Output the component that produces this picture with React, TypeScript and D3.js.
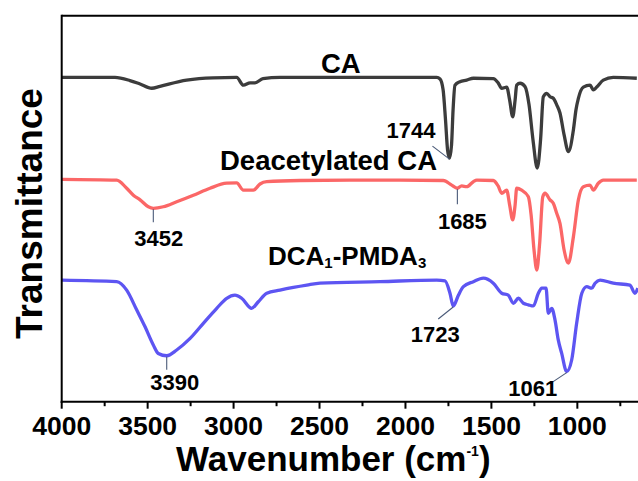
import React from "react";
import * as d3 from "d3";

// ---- data (wavenumber cm-1, transmittance a.u.) ----
const caWn = [4000, 3690, 3603, 3544, 3476, 3428, 3273, 3120, 2982, 2943, 2904, 2875, 2829, 2730, 2439, 2148, 1818, 1799, 1781, 1767, 1755, 1744, 1732, 1723, 1712, 1683, 1644, 1605, 1489, 1461, 1440, 1411, 1394, 1376, 1362, 1353, 1333, 1304, 1281, 1258, 1233, 1214, 1198, 1178, 1159, 1140, 1120, 1101, 1077, 1052, 1023, 1008, 994, 965, 926, 907, 887, 849, 791, 654];
const caT = [84.0, 84.0, 83.2, 82.3, 81.2, 81.7, 83.3, 83.9, 84.0, 82.0, 82.6, 82.6, 83.7, 84.0, 84.0, 84.0, 84.0, 83.6, 80.8, 73.0, 65.2, 63.1, 66.5, 75.6, 82.0, 82.9, 83.3, 83.8, 83.7, 82.6, 81.2, 81.5, 78.2, 73.8, 78.2, 82.0, 82.5, 81.6, 76.9, 67.8, 60.5, 67.8, 79.0, 79.9, 79.0, 78.6, 76.9, 74.8, 69.1, 64.8, 70.4, 75.6, 78.6, 81.5, 82.0, 80.8, 81.5, 83.3, 84.0, 83.8];

const dcaWn = [4000, 3680, 3622, 3583, 3544, 3496, 3467, 3409, 3331, 3234, 3137, 3040, 2982, 2943, 2885, 2846, 2807, 2613, 2323, 2032, 1780, 1731, 1698, 1673, 1644, 1605, 1585, 1489, 1461, 1440, 1411, 1394, 1376, 1362, 1353, 1324, 1285, 1269, 1252, 1236, 1220, 1201, 1188, 1159, 1140, 1120, 1101, 1077, 1052, 1023, 994, 965, 926, 907, 878, 849, 654];
const dcaT = [57.6, 57.4, 55.3, 53.5, 52.3, 50.5, 50.1, 50.5, 51.8, 53.5, 55.3, 56.6, 56.7, 54.8, 54.8, 56.4, 57.0, 57.3, 57.4, 57.4, 57.3, 56.1, 55.3, 55.9, 55.7, 57.0, 57.4, 57.3, 55.9, 54.0, 54.8, 51.0, 47.1, 51.0, 55.3, 54.8, 53.1, 48.4, 39.3, 34.1, 40.6, 53.1, 54.0, 52.3, 51.4, 48.8, 46.2, 39.3, 35.9, 42.7, 52.3, 55.7, 56.1, 54.8, 56.6, 57.4, 57.4];

const pmdaWn = [4000, 3680, 3622, 3564, 3515, 3467, 3438, 3389, 3331, 3253, 3176, 3098, 3040, 2992, 2953, 2895, 2856, 2807, 2730, 2652, 2574, 2497, 2148, 1818, 1770, 1741, 1722, 1692, 1663, 1605, 1547, 1489, 1440, 1402, 1372, 1343, 1314, 1285, 1256, 1227, 1207, 1182, 1169, 1149, 1130, 1111, 1091, 1062, 1033, 1004, 974, 945, 916, 897, 868, 791, 694, 665, 648];
const pmdaT = [31.5, 31.1, 28.9, 23.8, 19.4, 14.7, 12.5, 11.9, 13.4, 16.4, 20.3, 24.2, 26.8, 27.6, 26.8, 24.2, 25.9, 28.1, 28.9, 29.6, 30.2, 30.7, 31.1, 31.5, 31.3, 28.1, 24.8, 27.6, 29.8, 31.1, 32.0, 30.7, 28.1, 27.6, 25.5, 26.8, 25.5, 25.1, 24.8, 28.1, 29.4, 29.4, 22.9, 24.2, 21.2, 16.0, 12.5, 7.8, 10.8, 20.3, 28.1, 29.8, 29.4, 30.7, 31.5, 30.7, 30.2, 28.1, 29.4];

const majorTicks = [4000, 3500, 3000, 2500, 2000, 1500, 1000];
const minorTicks = [3750, 3250, 2750, 2250, 1750, 1250, 750];

const seriesNames = ["CA", "Deacetylated CA", "DCA-PMDA"];
const seriesColors = ["#3c3c3c", "#fb6767", "#5d55f2"];

// peak annotations: label, series index, wavenumber of marked point
const peakLabels = ["1744", "3452", "1685", "1723", "3390", "1061"];
const peakSeries = [0, 1, 1, 2, 2, 2];
const peakWn = [1744, 3467, 1698, 1722, 3389, 1062];

export default function App() {
  const W = 638, H = 481;
  const left = 61.7, right = 637.5, top = 15.7, bottom = 401.7;
  const x = d3.scaleLinear().domain([4000, 650]).range([left, right]);
  const y = d3.scaleLinear().domain([0, 100]).range([bottom, top]);
  const font = "'Liberation Sans', Arial, Helvetica, sans-serif";

  const all = [
    { wn: caWn, t: caT },
    { wn: dcaWn, t: dcaT },
    { wn: pmdaWn, t: pmdaT },
  ];
  const line = d3
    .line<[number, number]>()
    .x((d) => x(d[0]))
    .y((d) => y(d[1]))
    .curve(d3.curveMonotoneX);

  const valueAt = (s: number, w: number) => {
    const { wn, t } = all[s];
    for (let i = 0; i < wn.length - 1; i++) {
      if (wn[i] >= w && wn[i + 1] <= w) {
        const f = (wn[i] - w) / (wn[i] - wn[i + 1]);
        return t[i] + f * (t[i + 1] - t[i]);
      }
    }
    return t[t.length - 1];
  };

  // leader-line and text offsets (px) for each annotation
  const ann = [
    { lx: -17, ly: -12, tx: -14, ty: -20, anchor: "end" },
    { lx: 0, ly: 14, tx: 5.5, ty: 38, anchor: "middle" },
    { lx: 0, ly: 16, tx: 5, ty: 41, anchor: "middle" },
    { lx: -15, ly: 13, tx: -18, ty: 36, anchor: "middle" },
    { lx: 0, ly: 14, tx: 8, ty: 34, anchor: "middle" },
    { lx: -15, ly: 11, tx: -34, ty: 24.5, anchor: "middle" },
  ];

  return (
    <svg
      width={W}
      height={H}
      style={{ position: "absolute", left: 0, top: 0, background: "#fff" }}
      fontFamily={font}
      fontWeight="bold"
    >
      <defs>
        <clipPath id="plotclip">
          <rect x={left} y={top} width={right - left + 2} height={bottom - top} />
        </clipPath>
      </defs>

      <g clipPath="url(#plotclip)">
        {all.map((s, i) => (
          <path
            key={i}
            d={line(s.wn.map((w, j) => [w, s.t[j]] as [number, number])) || ""}
            fill="none"
            stroke={seriesColors[i]}
            strokeWidth={3.3}
            strokeLinejoin="round"
          />
        ))}
      </g>

      {/* frame */}
      <line x1={left} x2={W + 2} y1={top} y2={top} stroke="#000" strokeWidth={2} />
      <line x1={left} x2={left} y1={top - 1} y2={bottom + 1} stroke="#000" strokeWidth={2} />
      <line x1={left - 1} x2={W + 2} y1={bottom} y2={bottom} stroke="#000" strokeWidth={2} />

      {majorTicks.map((t) => (
        <g key={"M" + t}>
          <line x1={x(t)} x2={x(t)} y1={bottom} y2={bottom + 7} stroke="#000" strokeWidth={2} />
          <text x={x(t)} y={435} fontSize={26.5} textAnchor="middle" fill="#000">
            {t}
          </text>
        </g>
      ))}
      {minorTicks.map((t) => (
        <line key={"m" + t} x1={x(t)} x2={x(t)} y1={bottom} y2={bottom + 4.5} stroke="#000" strokeWidth={2} />
      ))}

      {/* axis titles */}
      <text x={176} y={471} fontSize={35} fill="#000">
        Wavenumber (cm<tspan fontSize={14} dy={-15}>-1</tspan>
        <tspan dy={15}>)</tspan>
      </text>
      <text
        transform={`translate(41.5, 213.5) rotate(-90)`}
        fontSize={37}
        textAnchor="middle"
        fill="#000"
      >
        Transmittance
      </text>

      {/* series labels */}
      <text x={321} y={73} fontSize={27.5} fill="#000">
        {seriesNames[0]}
      </text>
      <text x={220} y={170} fontSize={27.5} fill="#000">
        {seriesNames[1]}
      </text>
      <text x={268} y={265} fontSize={26} fill="#000">
        DCA<tspan fontSize={15} dy={3}>1</tspan>
        <tspan dy={-3}>-PMDA</tspan>
        <tspan fontSize={15} dy={3}>3</tspan>
      </text>

      {/* peak annotations */}
      {peakLabels.map((lab, i) => {
        const px = x(peakWn[i]);
        const py = y(valueAt(peakSeries[i], peakWn[i]));
        const a = ann[i];
        return (
          <g key={lab}>
            <line
              x1={px}
              y1={py + 1}
              x2={px + a.lx}
              y2={py + a.ly}
              stroke="#4a5a78"
              strokeWidth={1.1}
            />
            <text
              x={px + a.tx}
              y={py + a.ty}
              fontSize={22}
              textAnchor={a.anchor as any}
              fill="#000"
            >
              {lab}
            </text>
          </g>
        );
      })}
    </svg>
  );
}
